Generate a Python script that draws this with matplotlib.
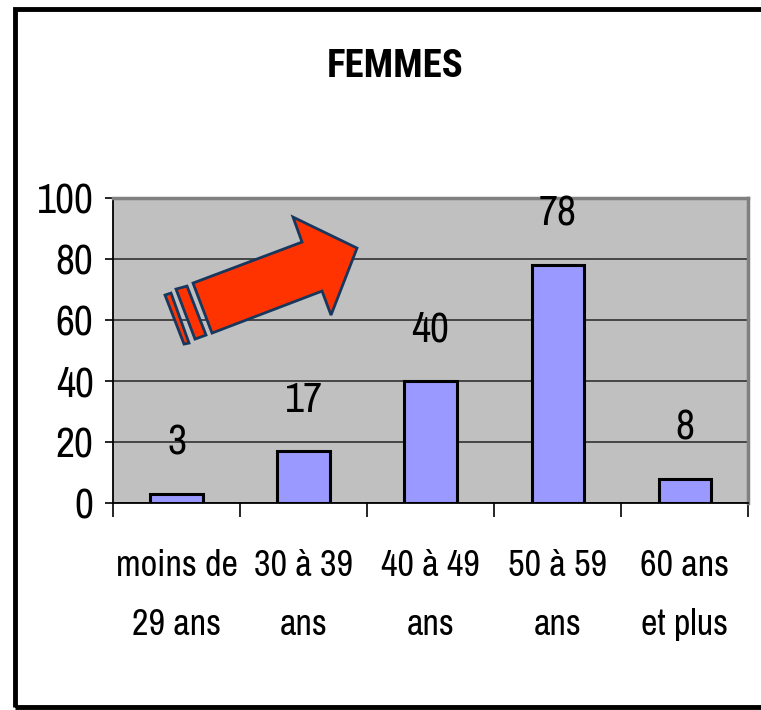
import numpy as np
import matplotlib.pyplot as plt
from matplotlib.patches import Polygon, Rectangle

plt.rcParams['font.family'] = ['Archivo Narrow', 'DejaVu Sans']

# age groups and number of women in each
categories = ['moins de\n29 ans', '30 à 39\nans', '40 à 49\nans', '50 à 59\nans', '60 ans\net plus']
values = [3, 17, 40, 78, 8]
yticks = [0, 20, 40, 60, 80, 100]

fig = plt.figure(figsize=(7.61, 7.10), dpi=100)
ax = fig.add_axes([0.1485, 0.2915, 0.8345, 0.4295])

# outer frame around the whole chart
fig.patches.append(Rectangle((0.0195, 0.004), 1.2, 0.983, transform=fig.transFigure,
                             fill=False, edgecolor='black', linewidth=3.5))

x = np.arange(len(values))
ax.set_facecolor('#C0C0C0')
ax.bar(x, values, width=0.41, color='#9999FF', edgecolor='black', linewidth=2.2, zorder=3)

for xi, v in zip(x, values):
    ax.annotate(str(v), (xi, v), xytext=(0, 37), textcoords='offset points',
                ha='center', va='center', fontsize=30)

ax.set_xlim(-0.5, len(values) - 0.5)
ax.set_ylim(0, 100)
ax.set_yticks(yticks)
ax.set_yticklabels([str(t) for t in yticks], fontsize=30)
ax.yaxis.grid(True, color='#303030', linewidth=1.2, zorder=1)
ax.set_axisbelow(True)

# category ticks sit on the boundaries, labels under the bars
ax.set_xticks(np.arange(len(values) + 1) - 0.5)
ax.set_xticklabels([])
ax.set_xticks(x, minor=True)
ax.set_xticklabels(categories, minor=True, fontsize=26, linespacing=1.95)
ax.tick_params(axis='x', which='major', length=10, width=1.2, direction='out')
ax.tick_params(axis='x', which='minor', length=0, pad=33)
ax.tick_params(axis='y', length=6, width=1.2, pad=8)

for s in ['top', 'right']:
    ax.spines[s].set_color('#808080')
    ax.spines[s].set_linewidth(2.5)
for s in ['left', 'bottom']:
    ax.spines[s].set_color('black')
    ax.spines[s].set_linewidth(1.3)

# red upward arrow with two stripes at its tail (axes fractions)
def px(p):
    return ((p[0] - 113) / 635, (503 - p[1]) / 305)

shaft = [(193, 283), (302, 242), (293, 217), (357, 248), (331, 315), (322, 291), (212, 333)]
stripe1 = [(176, 289), (187, 286), (206, 335), (195, 339)]
stripe2 = [(165, 295), (171, 293), (189, 343), (184, 344)]
for shape in [shaft, stripe1, stripe2]:
    ax.add_patch(Polygon([px(p) for p in shape], closed=True, transform=ax.transAxes,
                         facecolor='#FF3300', edgecolor='#17375E', linewidth=2, zorder=4))

fig.text(0.519, 0.906, 'FEMMES', ha='center', va='center', fontsize=28,
         fontweight='bold', family=['Roboto Condensed', 'DejaVu Sans'])

fig.savefig('out.png', dpi=100)
